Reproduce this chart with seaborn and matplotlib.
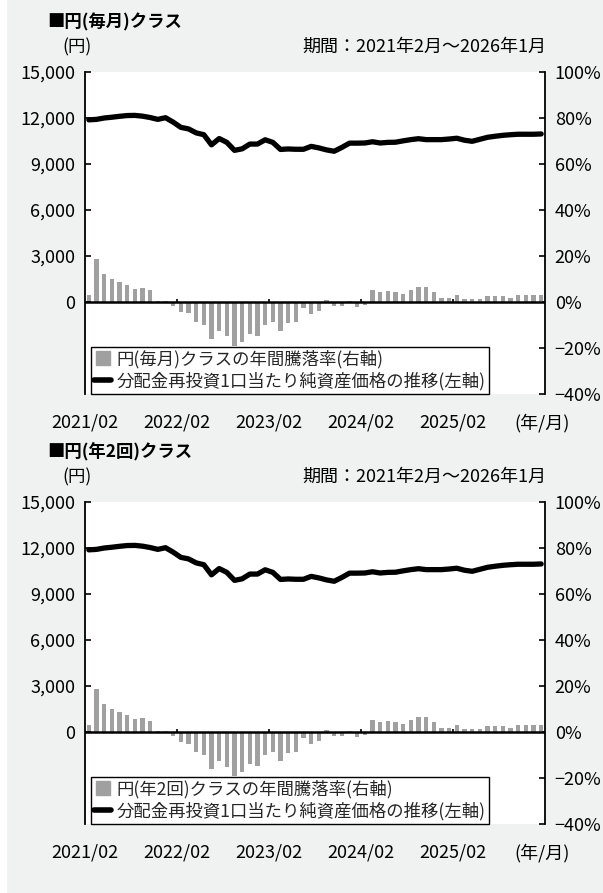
import matplotlib
matplotlib.use("Agg")
import matplotlib.pyplot as plt
import seaborn as sns
import numpy as np
import pandas as pd
from matplotlib.lines import Line2D
from matplotlib.patches import Rectangle
from matplotlib.ticker import FuncFormatter

# monthly data, 2021/02 - 2026/01 (60 months)
nav_monthly = [11880, 11910, 12000, 12050, 12110, 12160, 12170, 12120, 12030, 11910,
               12020, 11730, 11390, 11290, 11030, 10910, 10250, 10660, 10410, 9890,
               9990, 10300, 10300, 10580, 10410, 9950, 9980, 9960, 9960, 10150,
               10050, 9920, 9830, 10080, 10360, 10360, 10370, 10450, 10370, 10410,
               10420, 10510, 10590, 10650, 10590, 10590, 10590, 10630, 10680, 10550,
               10480, 10610, 10740, 10810, 10870, 10910, 10940, 10940, 10940, 10960]
ret_monthly = [3.2, 18.5, 12.1, 9.8, 8.9, 7.2, 5.8, 6.3, 5.0, 0.6,
               0.4, -1.9, -4.5, -5.0, -8.9, -9.9, -16.1, -12.4, -15.0, -19.0,
               -17.2, -13.9, -14.6, -10.2, -8.5, -12.4, -9.3, -8.9, -2.8, -5.3,
               -4.1, 0.9, -1.6, -1.8, 0.6, -2.3, -1.5, 5.1, 4.4, 4.7,
               4.5, 3.5, 5.1, 6.7, 6.7, 4.5, 1.9, 1.8, 3.2, 1.2,
               1.3, 1.5, 2.8, 2.6, 2.5, 1.9, 3.2, 2.9, 2.9, 3.2]
# the semi-annual class reads the same off the picture
nav_semi = list(nav_monthly)
ret_semi = list(ret_monthly)

month_idx = list(range(60))
year_ticks = [-0.5, 11.5, 23.5, 35.5, 47.5]
year_labels = ["2021/02", "2022/02", "2023/02", "2024/02", "2025/02"]
left_ticks = [0, 3000, 6000, 9000, 12000, 15000]
right_ticks = [-40, -20, 0, 20, 40, 60, 80, 100]

panels = [
    ("■円(毎月)クラス", "円(毎月)クラスの年間騰落率(右軸)", nav_monthly, ret_monthly),
    ("■円(年2回)クラス", "円(年2回)クラスの年間騰落率(右軸)", nav_semi, ret_semi),
]
line_label = "分配金再投資1口当たり純資産価格の推移(左軸)"
period_text = "期間：2021年2月～2026年1月"

BG = "#f0f2f1"
BAR = "#a0a0a0"

sns.set_theme(style="white")
plt.rcParams["font.family"] = ["Noto Sans CJK JP", "DejaVu Sans"]
plt.rcParams["axes.unicode_minus"] = True

W, H = 603, 893
fig = plt.figure(figsize=(W / 100, H / 100), dpi=100, facecolor=BG)
fig.patches.append(Rectangle((0, 0), 6 / W, 1, transform=fig.transFigure,
                             color="white", zorder=0))


def draw_panel(top_px, title, bar_label, nav, ret):
    left, right = 85, 545
    bottom_px = top_px + 322
    ax2 = fig.add_axes([left / W, 1 - bottom_px / H, (right - left) / W, 322 / H])
    ax = ax2.twinx()  # left axis for the line, drawn above the bars
    ax.yaxis.tick_left()
    ax2.yaxis.tick_right()
    ax2.set_facecolor("white")
    ax.patch.set_visible(False)

    df = pd.DataFrame({"m": month_idx, "nav": nav, "ret": ret})
    sns.barplot(data=df, x="m", y="ret", ax=ax2, color=BAR, saturation=1,
                width=0.57, linewidth=0)
    sns.lineplot(data=df, x="m", y="nav", ax=ax, color="black", linewidth=3.8,
                 solid_joinstyle="round", solid_capstyle="round")

    ax2.set_xlim(-0.5, 59.5)
    ax2.set_ylim(-40, 100)
    ax.set_ylim(-6000, 15000)

    ax2.set_yticks(right_ticks)
    ax2.yaxis.set_major_formatter(FuncFormatter(lambda v, p: f"{int(v)}%".replace("-", "\u2212")))
    ax.set_yticks(left_ticks)
    ax.yaxis.set_major_formatter(FuncFormatter(lambda v, p: f"{int(v):,}"))

    for s in ["top", "left", "bottom"]:
        ax2.spines[s].set_visible(False)
    for s in ["top", "right", "bottom"]:
        ax.spines[s].set_visible(False)
    for sp in (ax2.spines["right"], ax.spines["left"]):
        sp.set_color("black")
        sp.set_linewidth(1.3)

    # zero line (0 yen == 0 %) with small year ticks, on the front axes
    ax.axhline(0, color="black", lw=1.8, zorder=5)
    ax.vlines(year_ticks[1:], 0, 200, color="black", lw=1.2, zorder=5)

    ax2.tick_params(axis="x", bottom=False, labelbottom=False)
    ax.tick_params(axis="x", bottom=False, labelbottom=False)
    ax2.tick_params(axis="y", direction="in", length=4, width=1.2, color="black",
                    right=True, left=False, labelsize=13, pad=7, labelcolor="black")
    ax.tick_params(axis="y", direction="in", length=4, width=1.2, color="black",
                   left=True, right=False, labelsize=13, pad=7, labelcolor="black")
    ax.set_xlabel("")
    ax.set_ylabel("")
    ax2.set_xlabel("")
    ax2.set_ylabel("")

    for x, lab in zip(year_ticks, year_labels):
        ax.text(x, -0.09, lab, transform=ax.get_xaxis_transform(), ha="center",
                va="center", fontsize=13, color="black")
    ax.text(0.993, -0.09, "(年/月)", transform=ax.transAxes, ha="center",
            va="center", fontsize=13, color="black")

    handles = [Line2D([], [], marker="s", ls="", color=BAR, markersize=10),
               Line2D([], [], color="black", lw=4, solid_capstyle="round")]
    leg = ax.legend(handles, [bar_label, line_label], loc="lower left",
                    bbox_to_anchor=(0.012, 0.0), borderaxespad=0, fontsize=12.5,
                    frameon=True, fancybox=False, handlelength=1.0,
                    handletextpad=0.3, labelspacing=0.2, borderpad=0.2)
    leg.get_frame().set_edgecolor("black")
    leg.get_frame().set_linewidth(1.0)
    leg.get_frame().set_facecolor("white")
    leg.get_frame().set_alpha(1)

    # headings
    fig.text(47 / W, 1 - (top_px - 50) / H, title, fontsize=12.5, fontweight="bold",
             ha="left", va="center", color="black")
    fig.text(62 / W, 1 - (top_px - 25) / H, "(円)", fontsize=12.5,
             ha="left", va="center", color="black")
    fig.text(546 / W, 1 - (top_px - 25) / H, period_text, fontsize=13,
             ha="right", va="center", color="black")


for i, (title, bar_label, nav, ret) in enumerate(panels):
    draw_panel(72 + 430 * i, title, bar_label, nav, ret)

fig.savefig("out.png", dpi=100, facecolor=BG)
